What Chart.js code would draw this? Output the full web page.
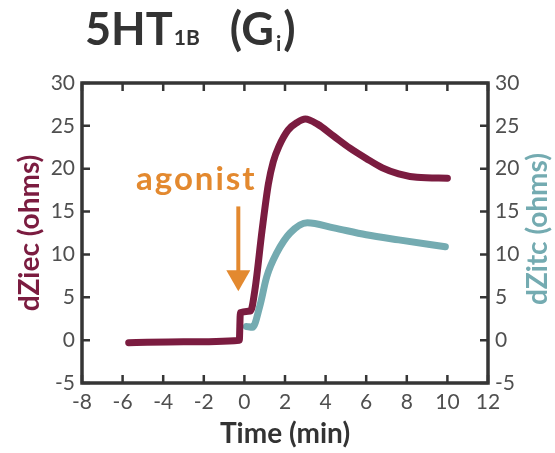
<!DOCTYPE html>
<html>
<head>
<meta charset="utf-8">
<script src="https://cdn.jsdelivr.net/npm/chart.js@4.4.1/dist/chart.umd.min.js"></script>
<style>
  html, body { margin: 0; padding: 0; background: #fff; }
</style>
</head>
<body>
<canvas id="chart" width="555" height="453"></canvas>
<script>
// Values (time in min, impedance in ohms)
const timeZiec = [-5.7, -3.0, -0.25, -0.2, 0.3, 0.52, 0.87, 1.18, 1.42, 1.7, 2.15, 2.6, 3.0, 3.6, 4.4, 5.2, 6.0, 6.8, 7.6, 8.5, 10.0];
const valuesZiec = [-0.3, -0.2, 0.0, 3.2, 3.4, 5.9, 12.8, 18.2, 20.8, 22.6, 24.5, 25.4, 25.8, 25.2, 23.8, 22.4, 21.2, 20.1, 19.4, 19.0, 18.9];
const timeZitc = [0.1, 0.4, 0.75, 1.1, 1.6, 2.25, 3.1, 4.4, 6.0, 7.6, 9.9];
const valuesZitc = [1.6, 1.5, 3.9, 7.4, 10.2, 12.5, 13.7, 13.1, 12.3, 11.7, 10.9];
const xTicks = [-8, -6, -4, -2, 0, 2, 4, 6, 8, 10, 12];
const yTicks = [-5, 0, 5, 10, 15, 20, 25, 30];

// agonist arrow, in data units
const arrowTime = -0.3;
const arrowTop = 15.6;
const arrowTip = 5.7;

const maroon = '#7b1c40';
const teal = '#74abb1';
const orange = '#e3892f';
const dark = '#333333';
const tickFont = { family: 'Lato', size: 21 };
const titleFont = { family: 'Lato', size: 28, weight: 'bold' };

function points(xs, ys) {
    return xs.map((x, i) => ({ x: x, y: ys[i] }));
}

// Frame and inward ticks
const framePlugin = {
    id: 'frame',
    afterDatasetsDraw(chart) {
        const { ctx, chartArea: a, scales } = chart;
        ctx.save();
        ctx.strokeStyle = '#353535';
        ctx.lineWidth = 3.5;
        ctx.strokeRect(a.left, a.top, a.right - a.left, a.bottom - a.top);
        ctx.lineWidth = 2.5;
        ctx.beginPath();
        xTicks.forEach(v => {
            const px = scales.x.getPixelForValue(v);
            ctx.moveTo(px, a.bottom); ctx.lineTo(px, a.bottom - 8);
            ctx.moveTo(px, a.top); ctx.lineTo(px, a.top + 8);
        });
        yTicks.forEach(v => {
            const py = scales.y.getPixelForValue(v);
            ctx.moveTo(a.left, py); ctx.lineTo(a.left + 8, py);
            const py2 = scales.y2.getPixelForValue(v);
            ctx.moveTo(a.right, py2); ctx.lineTo(a.right - 8, py2);
        });
        ctx.stroke();
        ctx.restore();
    }
};

// Title, right axis title, agonist arrow
const textPlugin = {
    id: 'texts',
    afterDraw(chart) {
        const { ctx, chartArea: a, scales } = chart;
        ctx.save();

        // title 5HT1B (Gi)
        ctx.fillStyle = dark;
        ctx.textBaseline = 'alphabetic';
        ctx.textAlign = 'left';
        let x = 85;
        ctx.font = 'bold 45px Lato';
        ctx.fillText('5HT', x, 45);
        x += ctx.measureText('5HT').width + 1;
        ctx.font = 'bold 21px Lato';
        ctx.fillText('1B', x, 45);
        x += ctx.measureText('1B').width + 30;
        ctx.font = 'bold 45px Lato';
        ctx.fillText('(G', x, 45);
        x += ctx.measureText('(G').width + 2;
        ctx.font = 'bold 21px Lato';
        ctx.fillText('i', x, 51);
        x += ctx.measureText('i').width + 2;
        ctx.font = 'bold 45px Lato';
        ctx.fillText(')', x, 45);

        // right axis title, reading upward
        ctx.save();
        ctx.translate(a.right + 50, (a.top + a.bottom) / 2 - 4);
        ctx.rotate(-Math.PI / 2);
        ctx.textAlign = 'center';
        ctx.textBaseline = 'middle';
        ctx.fillStyle = teal;
        ctx.font = 'bold 28px Lato';
        ctx.fillText('dZitc (ohms)', 0, 0);
        ctx.restore();

        // agonist arrow
        const ax = scales.x.getPixelForValue(arrowTime);
        const top = scales.y.getPixelForValue(arrowTop);
        const tip = scales.y.getPixelForValue(arrowTip);
        ctx.strokeStyle = orange;
        ctx.fillStyle = orange;
        ctx.lineWidth = 4;
        ctx.beginPath();
        ctx.moveTo(ax, top);
        ctx.lineTo(ax, tip - 15);
        ctx.stroke();
        ctx.beginPath();
        ctx.moveTo(ax - 12, tip - 21);
        ctx.lineTo(ax + 12, tip - 21);
        ctx.lineTo(ax, tip);
        ctx.closePath();
        ctx.fill();

        ctx.font = 'bold 33px Lato';
        ctx.letterSpacing = '2px';
        ctx.textAlign = 'center';
        ctx.textBaseline = 'alphabetic';
        ctx.fillText('agonist', ax - 42, top - 16);
        ctx.restore();
    }
};

new Chart(document.getElementById('chart'), {
    type: 'line',
    data: {
        datasets: [{
            label: 'dZiec',
            data: points(timeZiec, valuesZiec),
            yAxisID: 'y',
            borderColor: maroon,
            borderWidth: 7,
            pointRadius: 0,
            cubicInterpolationMode: 'monotone',
            borderCapStyle: 'round',
            borderJoinStyle: 'round',
            fill: false
        }, {
            label: 'dZitc',
            data: points(timeZitc, valuesZitc),
            yAxisID: 'y2',
            borderColor: teal,
            borderWidth: 7,
            pointRadius: 0,
            cubicInterpolationMode: 'monotone',
            borderCapStyle: 'round',
            borderJoinStyle: 'round',
            fill: false
        }]
    },
    options: {
        responsive: false,
        animation: false,
        layout: { padding: { top: 83 } },
        plugins: {
            legend: { display: false },
            tooltip: { enabled: false }
        },
        scales: {
            x: {
                type: 'linear',
                min: -8, max: 12,
                afterBuildTicks: s => { s.ticks = xTicks.map(v => ({ value: v })); },
                afterFit: s => { s.height = 70; },
                grid: { display: false, drawTicks: false },
                border: { display: false },
                ticks: { font: tickFont, color: '#4f4f4f', padding: 7 },
                title: { display: true, text: 'Time (min)', color: dark, font: titleFont, padding: { top: 0, bottom: 2 } }
            },
            y: {
                position: 'left',
                min: -5, max: 30,
                afterBuildTicks: s => { s.ticks = yTicks.map(v => ({ value: v })); },
                afterFit: s => { s.width = 82; },
                grid: { display: false, drawTicks: false },
                border: { display: false },
                ticks: { font: tickFont, color: '#4f4f4f', padding: 7 },
                title: { display: true, text: 'dZiec (ohms)', color: maroon, font: titleFont, padding: { top: 13, bottom: 0 } }
            },
            y2: {
                position: 'right',
                min: -5, max: 30,
                afterBuildTicks: s => { s.ticks = yTicks.map(v => ({ value: v })); },
                afterFit: s => { s.width = 67; },
                grid: { display: false, drawTicks: false },
                border: { display: false },
                ticks: { font: tickFont, color: '#4f4f4f', padding: 7 }
            }
        }
    },
    plugins: [framePlugin, textPlugin]
});
</script>
</body>
</html>
